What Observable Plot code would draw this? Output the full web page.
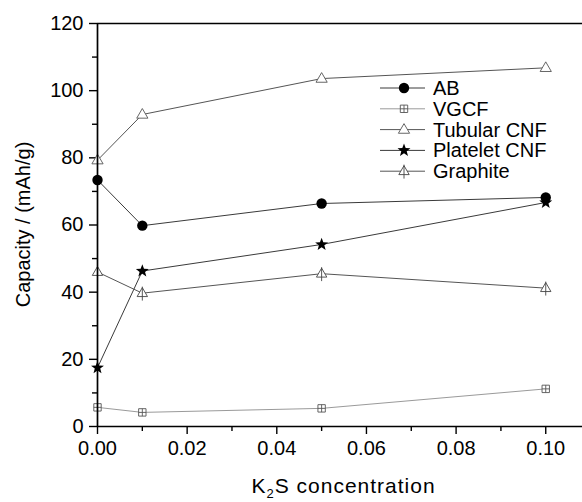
<!DOCTYPE html>
<html>
<head>
<meta charset="utf-8">
<script src="https://cdn.jsdelivr.net/npm/d3@7"></script>
<script src="https://cdn.jsdelivr.net/npm/@observablehq/plot@0.6"></script>
<style>
  html, body { margin: 0; padding: 0; background: #fff; }
  #chart { width: 582px; height: 502px; }
  svg { font-family: "Liberation Sans", Arial, sans-serif; }
</style>
</head>
<body>
<div id="chart"></div>
<script>
// ---- data ----
const concentrations = [0, 0.01, 0.05, 0.10];
const seriesNames = ["AB", "VGCF", "Tubular CNF", "Platelet CNF", "Graphite"];
const abValues       = [73.4, 59.8, 66.4, 68.2];
const vgcfValues     = [5.7, 4.2, 5.4, 11.2];
const tubularValues  = [79.3, 92.9, 103.6, 106.8];
const plateletValues = [17.5, 46.3, 54.2, 66.7];
const graphiteValues = [46.0, 39.7, 45.5, 41.2];
const yMajorTicks = [0, 20, 40, 60, 80, 100, 120];
const yMinorTicks = [10, 30, 50, 70, 90, 110];
const xMajorTicks = [0, 0.02, 0.04, 0.06, 0.08, 0.10];
const xMinorTicks = [0.01, 0.03, 0.05, 0.07, 0.09];
const xLabel = ["K", "2", "S concentration"];
const yLabel = "Capacity / (mAh/g)";

// ---- custom symbols ----
const crossedSquare = {draw(ctx, size) {
  const r = Math.sqrt(size / Math.PI);
  ctx.moveTo(-r, -r); ctx.lineTo(r, -r); ctx.lineTo(r, r); ctx.lineTo(-r, r); ctx.closePath();
  ctx.moveTo(-r, 0); ctx.lineTo(r, 0);
  ctx.moveTo(0, -r); ctx.lineTo(0, r);
}};
const openTriangle = {draw(ctx, size) {
  const r = Math.sqrt(size / Math.PI);
  const w = 2 * r, h = 1.72 * r;
  ctx.moveTo(0, -0.62 * h); ctx.lineTo(w / 2, 0.38 * h); ctx.lineTo(-w / 2, 0.38 * h); ctx.closePath();
}};
const graphiteTriangle = {draw(ctx, size) {
  const r = Math.sqrt(size / Math.PI);
  const w = 2 * r, h = 1.72 * r;
  ctx.moveTo(0, -0.62 * h); ctx.lineTo(w / 2, 0.38 * h); ctx.lineTo(-w / 2, 0.38 * h); ctx.closePath();
  ctx.moveTo(0, -0.62 * h - 1); ctx.lineTo(0, 0.38 * h + 4);
}};
const starSymbol = {draw(ctx, size) {
  const R = Math.sqrt(size / Math.PI), ri = R * 0.42;
  for (let i = 0; i < 10; i++) {
    const a = -Math.PI / 2 + i * Math.PI / 5;
    const rr = i % 2 === 0 ? R : ri;
    const px = rr * Math.cos(a), py = rr * Math.sin(a);
    if (i === 0) ctx.moveTo(px, py); else ctx.lineTo(px, py);
  }
  ctx.closePath();
}};

const styles = {
  "AB":           {values: abValues,       line: "#3a3a3a", symbol: "circle",         r: 5.2, fill: "#000", stroke: "none", sw: 1},
  "VGCF":         {values: vgcfValues,     line: "#9a9a9a", symbol: crossedSquare,    r: 3.7, fill: "#fff", stroke: "#555", sw: 0.9},
  "Tubular CNF":  {values: tubularValues,  line: "#555",    symbol: openTriangle,     r: 5.6, fill: "#fff", stroke: "#555", sw: 0.9},
  "Platelet CNF": {values: plateletValues, line: "#3a3a3a", symbol: starSymbol,       r: 6.8, fill: "#000", stroke: "none", sw: 1},
  "Graphite":     {values: graphiteValues, line: "#555",    symbol: graphiteTriangle, r: 5.2, fill: "#fff", stroke: "#444", sw: 0.9}
};

const rows = [];
for (const name of seriesNames) {
  styles[name].values.forEach((v, i) => rows.push({series: name, x: concentrations[i], y: v}));
}

const marks = [];
for (const name of seriesNames) {
  const s = styles[name];
  marks.push(Plot.line(rows.filter(d => d.series === name), {x: "x", y: "y", stroke: s.line, strokeWidth: 1}));
}
for (const name of seriesNames) {
  const s = styles[name];
  marks.push(Plot.dot(rows.filter(d => d.series === name), {x: "x", y: "y", symbol: () => s.symbol, r: s.r, fill: s.fill, stroke: s.stroke, strokeWidth: s.sw}));
}

const plot = Plot.plot({
  width: 582,
  height: 502,
  marginTop: 23,
  marginLeft: 97,
  marginRight: 0,
  marginBottom: 76,
  style: {fontFamily: '"Liberation Sans", Arial, sans-serif', background: "#fff", color: "#000"},
  x: {domain: [0, 0.1082]},
  y: {domain: [0, 120]},
  symbol: {type: "identity"},
  marks: [
    Plot.axisY(yMajorTicks, {tickSize: 8, tickPadding: 6, fontSize: 20, label: null, strokeWidth: 1.4, tickFormat: d => d}),
    Plot.axisY(yMinorTicks, {tickSize: 5, tickFormat: () => "", label: null, strokeWidth: 1.4}),
    Plot.axisX(xMajorTicks, {tickSize: 8, tickPadding: 6, fontSize: 20, label: null, strokeWidth: 1.4, tickFormat: d3.format(".2f")}),
    Plot.axisX(xMinorTicks, {tickSize: 5, tickFormat: () => "", label: null, strokeWidth: 1.4}),
    ...marks,
    Plot.ruleY([0, 120], {stroke: "#000", strokeWidth: 1.7}),
    Plot.ruleX([0], {stroke: "#000", strokeWidth: 1.7})
  ]
});
document.getElementById("chart").appendChild(plot);

// ---- axis labels and legend ----
const svg = d3.select(plot);
const xs = plot.scale("x"), ys = plot.scale("y");
const frameLeft = xs.range[0];
const frameMidX = (frameLeft + xs.apply(0.11)) / 2;
const frameMidY = (ys.range[0] + ys.range[1]) / 2;

const xl = svg.append("text")
  .attr("x", frameMidX).attr("y", 493)
  .attr("text-anchor", "middle")
  .attr("font-size", 21).attr("letter-spacing", 1).attr("fill", "#000");
xl.append("tspan").text(xLabel[0]);
xl.append("tspan").text(xLabel[1]).attr("font-size", 13).attr("dy", 5);
xl.append("tspan").text(xLabel[2]).attr("dy", -5);

svg.append("text")
  .attr("transform", `translate(30,${frameMidY}) rotate(-90)`)
  .attr("text-anchor", "middle")
  .attr("font-size", 20).attr("fill", "#000")
  .text(yLabel);

const legend = svg.append("g").attr("transform", "translate(380,88)");
seriesNames.forEach((name, i) => {
  const s = styles[name];
  const g = legend.append("g").attr("transform", `translate(0,${i * 20.8})`);
  g.append("line").attr("x1", 0).attr("x2", 45).attr("y1", 0).attr("y2", 0)
    .attr("stroke", s.line).attr("stroke-width", 1);
  const symType = s.symbol === "circle" ? d3.symbolCircle : s.symbol;
  g.append("path")
    .attr("d", d3.symbol(symType, Math.PI * s.r * s.r)())
    .attr("transform", "translate(24,0)")
    .attr("fill", s.fill).attr("stroke", s.stroke).attr("stroke-width", s.sw);
  g.append("text").attr("x", 53).attr("y", 0).attr("dy", "0.35em")
    .attr("text-anchor", "start")
    .attr("font-size", 20).attr("fill", "#000").text(name);
});
</script>
</body>
</html>
